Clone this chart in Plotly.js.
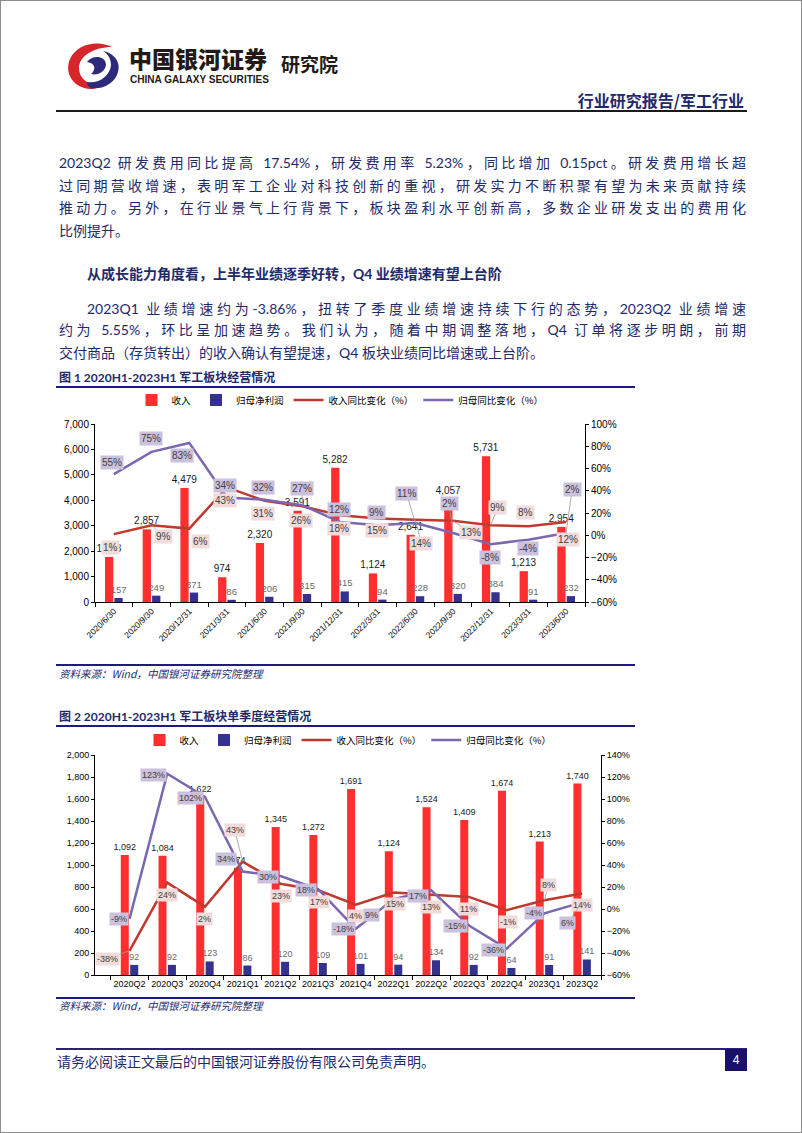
<!DOCTYPE html>
<html><head><meta charset="utf-8">
<script src="https://cdn.plot.ly/plotly-3.0.1.min.js"></script>
<style>
html,body{margin:0;padding:0;background:#fff;}
#page{position:relative;width:802px;height:1133px;box-sizing:border-box;border:1px solid #8c8c8c;overflow:hidden;font-family:"Noto Sans CJK SC",sans-serif;background:#fff;}
.abs{position:absolute;white-space:nowrap;}
.ln{position:absolute;left:58px;width:687px;height:20px;line-height:20px;font-size:14px;color:#1e2a6b;font-family:Lato,"Noto Sans CJK SC",sans-serif;text-align:justify;text-align-last:justify;}
.plain{text-align:left;text-align-last:left;white-space:nowrap;}
.rule{position:absolute;}
.fig{position:absolute;left:58px;font-size:12px;font-weight:bold;color:#1e2a6b;font-family:Lato,"Noto Sans CJK SC",sans-serif;white-space:nowrap;line-height:16px;}
.src{position:absolute;left:58px;font-size:10.5px;font-style:italic;color:#1e2a6b;font-family:"Noto Sans CJK SC",serif;white-space:nowrap;line-height:14px;}
.chart{position:absolute;left:55px;width:580px;}
</style>
</head><body>
<div id="page">
  <svg class="abs" style="left:64px;top:40px" width="58" height="50" viewBox="0 0 58 50">
    <path d="M47,6 C34,-1 12,2 5,18 C-1,32 8,47 25,48 C31,48 35,46 37,44 C24,45 14,38 14,27 C14,15 29,6 47,6 Z" fill="#d7262b"/>
    <path d="M22,41 C34,43 45,35 46,24 C46,17 42,12 38,10 C49,12 56,21 53,31 C50,42 38,49 26,47 C24,46 22,44 22,41 Z" fill="#2d2a7c"/>
    <path d="M22,21 C28,13 40,15 41,23 C41,30 33,35 26,33 C31,29 31,22 22,21 Z" fill="#2d2a7c"/>
  </svg>
  <div class="abs" style="left:128px;top:45px;font-size:23px;font-weight:900;color:#231916;line-height:24px;">中国银河证券</div>
  <div class="abs" id="cgs" style="left:129px;top:72px;font-size:11px;font-weight:bold;color:#231916;font-family:'Liberation Sans',Arial,sans-serif;line-height:12px;transform-origin:0 0;">CHINA GALAXY SECURITIES</div>
  <div class="abs" style="left:280px;top:51px;font-size:19px;font-weight:bold;color:#231916;line-height:24px;">研究院</div>
  <div class="abs" style="right:57px;top:90px;font-size:16px;font-weight:bold;color:#1e2a6b;line-height:19px;">行业研究报告/军工行业</div>
  <div class="rule" style="left:55px;top:109px;width:691px;height:2px;background:#1a1a1a;"></div>

  <div class="ln" style="top:152px;">2023Q2 研发费用同比提高 17.54%，研发费用率 5.23%，同比增加 0.15pct。研发费用增长超</div>
  <div class="ln" style="top:175px;">过同期营收增速，表明军工企业对科技创新的重视，研发实力不断积聚有望为未来贡献持续</div>
  <div class="ln" style="top:197px;">推动力。另外，在行业景气上行背景下，板块盈利水平创新高，多数企业研发支出的费用化</div>
  <div class="ln plain" style="top:220px;">比例提升。</div>
  <div class="ln plain" style="top:263px;left:86px;font-weight:bold;">从成长能力角度看，上半年业绩逐季好转，Q4 业绩增速有望上台阶</div>
  <div class="ln" style="top:298px;left:86px;width:659px;">2023Q1 业绩增速约为-3.86%，扭转了季度业绩增速持续下行的态势，2023Q2 业绩增速</div>
  <div class="ln" style="top:319px;">约为 5.55%，环比呈加速趋势。我们认为，随着中期调整落地，Q4 订单将逐步明朗，前期</div>
  <div class="ln plain" style="top:342px;">交付商品（存货转出）的收入确认有望提速，Q4 板块业绩同比增速或上台阶。</div>

  <div class="fig" style="top:369px;">图 1 2020H1-2023H1 军工板块经营情况</div>
  <div class="rule" style="left:55px;top:385px;width:579px;height:2px;background:#1c1c80;"></div>
  <div id="c1" class="chart" style="top:387px;height:275px;"></div>
  <div class="rule" style="left:55px;top:663px;width:579px;height:2px;background:#1c1c80;"></div>
  <div class="src" style="top:666px;">资料来源：Wind，中国银河证券研究院整理</div>

  <div class="fig" style="top:708px;">图 2 2020H1-2023H1 军工板块单季度经营情况</div>
  <div class="rule" style="left:55px;top:724px;width:579px;height:2px;background:#1c1c80;"></div>
  <div id="c2" class="chart" style="top:727px;height:268px;"></div>
  <div class="rule" style="left:55px;top:996px;width:579px;height:2px;background:#1c1c80;"></div>
  <div class="src" style="top:998px;">资料来源：Wind，中国银河证券研究院整理</div>

  <div class="rule" style="left:55px;top:1047px;width:691px;height:2px;background:#2b2277;"></div>
  <div class="abs" style="left:56px;top:1051px;font-size:14px;color:#1e2a6b;line-height:19px;">请务必阅读正文最后的中国银河证券股份有限公司免责声明。</div>
  <div class="abs" style="left:724px;top:1048px;width:22px;height:22px;background:#1a0f6b;color:#fff;font-size:12px;line-height:22px;text-align:center;font-family:'Liberation Sans',Arial,sans-serif;">4</div>
</div>
<script>
// ---------- data: figure 1 (cumulative) ----------
const dates1 = ['2020/6/30','2020/9/30','2020/12/31','2021/3/31','2021/6/30','2021/9/30','2021/12/31','2022/3/31','2022/6/30','2022/9/30','2022/12/31','2023/3/31','2023/6/30'];
const rev1 = [1773, 2857, 4479, 974, 2320, 3591, 5282, 1124, 2641, 4057, 5731, 1213, 2954];
const np1 = [157, 249, 371, 86, 206, 315, 415, 94, 228, 320, 384, 91, 232];
const revYoy1 = [1, 9, 6, 43, 31, 26, 18, 15, 14, 13, 9, 8, 12];
const npYoy1 = [55, 75, 83, 34, 32, 27, 12, 9, 11, 2, -8, -4, 2];

// ---------- data: figure 2 (single quarter) ----------
const quarters2 = ['2020Q2','2020Q3','2020Q4','2021Q1','2021Q2','2021Q3','2021Q4','2022Q1','2022Q2','2022Q3','2022Q4','2023Q1','2023Q2'];
const rev2 = [1092, 1084, 1622, 974, 1345, 1272, 1691, 1124, 1524, 1409, 1674, 1213, 1740];
const np2 = [92, 92, 123, 86, 120, 109, 101, 94, 134, 92, 64, 91, 141];
const revYoy2 = [-38, 24, 2, 43, 23, 17, 4, 15, 13, 11, -1, 8, 14];
const npYoy2 = [-9, 123, 102, 34, 30, 18, -18, 9, 17, -15, -36, -4, 6];

const seriesNames = ['收入', '归母净利润', '收入同比变化（%）', '归母同比变化（%）'];

// ---------- label placement (style only, pixel offsets) ----------
const revLblOff1 = [[-3,13],[12,11],[11,13],[-2,13],[-2,13],[-1,14],[-1,13],[-1,12],[6,24],[18,12],[7,-18],[-3,-14],[2,18]];
const revLead1 = [0,1,1,0,0,0,0,0,1,1,1,0,0];
const npLblOff1 = [[-2,-12],[-1,-13],[-7,13],[-2,-12],[-2,-12],[0,-17],[-1,-12],[-1,-13],[-9,-30],[-4,-30],[-1,13],[0,9],[6,-44]];
const npLead1 = [0,0,0,0,0,1,0,0,1,1,0,0,1];
const revLblOff2 = [[-22,8],[0,12],[0,12],[-8,-32],[1,12],[1,12],[0,11],[1,11],[0,12],[0,12],[1,12],[4,-15],[0,11]];
const revLead2 = [1,0,0,1,0,0,0,0,0,0,0,1,0];
const npLblOff2 = [[-11,0],[-14,1],[-14,1],[-17,-13],[-12,1],[-12,1],[-12,0],[-22,16],[-13,6],[-13,0],[-13,1],[-10,0],[-15,21]];
const npLead2 = [0,0,0,0,0,0,0,1,0,0,0,0,1];

const RED = '#ff2f2f', BLUE = '#35318f', LRED = '#c0392e', LPUR = '#7b66b2';
const FONT = '"Liberation Sans", Arial, "Noto Sans CJK SC", sans-serif';
const CJK = '"Noto Sans CJK SC", sans-serif';

function pctAnns(xs, vals, offs, lead, fill, size){
  return vals.map((v,i)=>({
    x: xs[i], y: v, xref:'x', yref:'y2',
    text: v + '%', showarrow: true, ax: offs[i][0], ay: offs[i][1],
    arrowhead: 0, arrowwidth: 0.8, standoff: 0, startstandoff: 0,
    arrowcolor: lead[i] ? '#9a9a9a' : 'rgba(0,0,0,0)',
    bgcolor: fill, borderpad: 1, font: {size: size, color: '#404040', family: FONT}
  }));
}

function traces(xs, rev, np, ry, ny, fs1, fs2){
  return [
    {type:'bar', x:xs, y:rev, name:seriesNames[0], marker:{color:RED},
     text: rev.map(v=>v.toLocaleString('en-US')), textposition:'outside', textangle:0, constraintext:'none',
     textfont:{size:fs1, color:'#1a1a1a', family:FONT}, cliponaxis:false, hoverinfo:'skip'},
    {type:'bar', x:xs, y:np, name:seriesNames[1], marker:{color:BLUE},
     text: np.map(v=>String(v)), textposition:'outside', textangle:0, constraintext:'none',
     textfont:{size:fs2, color:'#6a6a6a', family:FONT}, cliponaxis:false, hoverinfo:'skip'},
    {type:'scatter', mode:'lines', x:xs, y:ry, yaxis:'y2', name:seriesNames[2], line:{color:LRED, width:2.5}, hoverinfo:'skip'},
    {type:'scatter', mode:'lines', x:xs, y:ny, yaxis:'y2', name:seriesNames[3], line:{color:LPUR, width:2.5}, hoverinfo:'skip'}
  ];
}

function axisBase(){ return {showline:true, linecolor:'#000', linewidth:1, ticks:'outside', ticklen:3, tickcolor:'#000', showgrid:false, zeroline:false, fixedrange:true, automargin:false}; }

const layout1 = {
  width:580, height:275, margin:{l:39, r:51, t:36, b:61, autoexpand:false},
  paper_bgcolor:'rgba(0,0,0,0)', plot_bgcolor:'rgba(0,0,0,0)',
  font:{family:FONT, size:10, color:'#000'},
  barmode:'group', bargap:0.5, bargroupgap:0.12,
  xaxis:Object.assign(axisBase(), {type:'category', tickangle:-45, tickfont:{size:8.5}, ticklen:4, tickson:'boundaries'}),
  yaxis:Object.assign(axisBase(), {range:[0,7000], dtick:1000, tickformat:',', tickfont:{size:10}}),
  yaxis2:Object.assign(axisBase(), {overlaying:'y', side:'right', range:[-60,100], dtick:20, ticksuffix:'%', tickfont:{size:10}}),
  legend:{orientation:'h', x:0.5, xanchor:'center', y:1+24/178, yanchor:'middle', font:{size:9.5, family:CJK}, itemwidth:30, traceorder:'normal', bgcolor:'rgba(0,0,0,0)'},
  showlegend:true,
  annotations: pctAnns(dates1, revYoy1, revLblOff1, revLead1, '#f2dcdb', 10)
       .concat(pctAnns(dates1, npYoy1, npLblOff1, npLead1, '#ccc1dc', 10))
};

const layout2 = {
  width:580, height:268, margin:{l:39, r:35, t:27, b:21, autoexpand:false},
  paper_bgcolor:'rgba(0,0,0,0)', plot_bgcolor:'rgba(0,0,0,0)',
  font:{family:FONT, size:9, color:'#000'},
  barmode:'group', bargap:0.5, bargroupgap:0.15,
  xaxis:Object.assign(axisBase(), {type:'category', tickangle:0, tickfont:{size:9}, ticklen:4, tickson:'boundaries'}),
  yaxis:Object.assign(axisBase(), {range:[0,2000], dtick:200, tickformat:',', tickfont:{size:9}}),
  yaxis2:Object.assign(axisBase(), {overlaying:'y', side:'right', range:[-60,140], dtick:20, ticksuffix:'%', tickfont:{size:9}}),
  legend:{orientation:'h', x:0.5, xanchor:'center', y:1+15/220, yanchor:'middle', font:{size:9.5, family:CJK}, itemwidth:30, traceorder:'normal', bgcolor:'rgba(0,0,0,0)'},
  showlegend:true,
  annotations: pctAnns(quarters2, revYoy2, revLblOff2, revLead2, '#f2dcdb', 9)
       .concat(pctAnns(quarters2, npYoy2, npLblOff2, npLead2, '#ccc1dc', 9))
};
const cfg = {displayModeBar:false, staticPlot:true};
Plotly.newPlot('c1', traces(dates1, rev1, np1, revYoy1, npYoy1, 10, 9.5), layout1, cfg);
Plotly.newPlot('c2', traces(quarters2, rev2, np2, revYoy2, npYoy2, 9, 9), layout2, cfg);

// fit the English company line to its width in the logo block
(function(){
  const el = document.getElementById('cgs');
  const w = el.getBoundingClientRect().width;
  if (w > 0) el.style.transform = 'scaleX(' + (139 / w) + ')';
})();
</script>
</body></html>
